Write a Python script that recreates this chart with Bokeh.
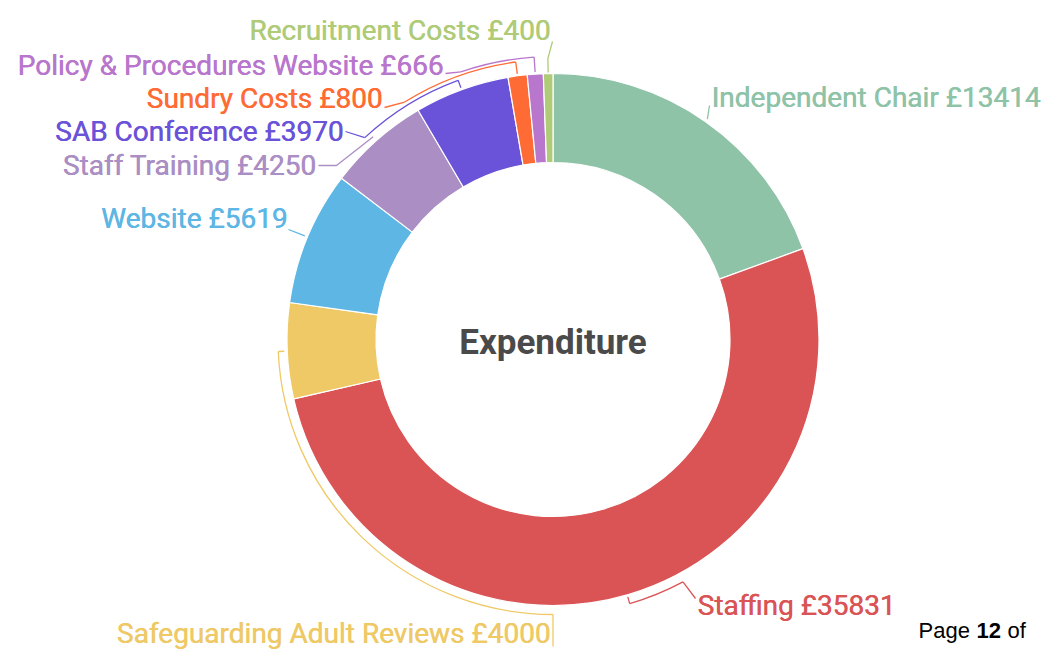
import math
from bokeh.plotting import figure
from bokeh.models import Range1d
from bokeh.core.properties import value
from bokeh.embed import file_html
from bokeh.resources import INLINE

# ---- data ----
categories = ["Independent Chair", "Staffing", "Safeguarding Adult Reviews", "Website",
              "Staff Training", "SAB Conference", "Sundry Costs",
              "Policy & Procedures Website", "Recruitment Costs"]
amounts = [13414, 35831, 4000, 5619, 4250, 3970, 800, 666, 400]
colors = ["#8EC3A7", "#DA5456", "#EEC966", "#5DB6E3", "#AA8EC4", "#6B53D9",
          "#FF6B35", "#B876CC", "#AFCB78"]
center_title = "Expenditure"
currency = "£"
footer = ["Page", "12", "of"]

# ---- layout ----
W, H = 1048, 649
CX, CY = 552.5, 339.0       # picture px
R_OUT, R_IN = 266, 177
FONT = "Roboto"
FS = "28px"

p = figure(width=W, height=H, x_range=Range1d(0, W), y_range=Range1d(-H, 0),
           output_backend="svg", toolbar_location=None, min_border=0)
p.axis.visible = False
p.grid.visible = False
p.outline_line_color = None
p.background_fill_color = "white"


def pt(theta, r):
    t = math.radians(theta)
    return CX + r * math.sin(t), -(CY - r * math.cos(t))


total = float(sum(amounts))
th_start, th_end, th_mid = [], [], []
acc = 0.0
for a in amounts:
    s = acc / total * 360.0
    acc += a
    e = acc / total * 360.0
    th_start.append(s)
    th_end.append(e)
    th_mid.append((s + e) / 2)

p.annular_wedge(x=CX, y=-CY, inner_radius=R_IN, outer_radius=R_OUT,
                start_angle=[math.radians(90 - e) for e in th_end],
                end_angle=[math.radians(90 - s) for s in th_start],
                fill_color=colors, line_color="white", line_width=1.2)

p.text(x=[CX], y=[-342], text=[center_title], text_font=value(FONT), text_font_size="35px",
       text_color="#4A4A4A", text_align="center", text_baseline="middle", text_font_style="bold")


def seg(points, c, w=1.3):
    xs = [q[0] for q in points]
    ys = [q[1] for q in points]
    p.line(xs, ys, line_color=c, line_width=w)


def bracket(r, t0, t1, c):
    p.arc(x=CX, y=-CY, radius=r, start_angle=math.radians(90 - t1),
          end_angle=math.radians(90 - t0), line_color=c, line_width=1.3)


# leader / bracket layout (picture px & angles)
# 0 Independent Chair
seg([pt(th_mid[0], 269), (709, -105)], colors[0])
# 1 Staffing
bracket(275, 151.8, 163.8, colors[1])
seg([pt(163.8, 268), pt(163.8, 275)], colors[1])
seg([pt(151.8, 275), (695, -598)], colors[1])
# 2 Safeguarding Adult Reviews
bracket(275, 180, 267.5, colors[2])
seg([pt(267.5, 269), pt(267.5, 275)], colors[2])
seg([pt(180, 275), (CX, -646)], colors[2])
# 3 Website
seg([pt(th_mid[3], 269), (288, -229)], colors[3])
# 4 Staff Training
seg([pt(th_mid[4], 271), (336, -165), (318, -165)], colors[4])
# 5 SAB Conference
seg([pt(th_mid[5], 268), pt(th_mid[5], 276)], colors[5])
bracket(276, 317, th_mid[5], colors[5])
seg([pt(317, 276), (345, -131)], colors[5])
# 6 Sundry
seg([pt(th_mid[6], 268), pt(th_mid[6], 280)], colors[6])
bracket(280, 328, th_mid[6], colors[6])
seg([pt(328, 280), (384, -107)], colors[6])
# 7 Policy
seg([pt(th_mid[7], 268), pt(th_mid[7], 283)], colors[7])
bracket(283, 341, th_mid[7], colors[7])
seg([pt(341, 283), (445, -73)], colors[7])
# 8 Recruitment
seg([pt(th_mid[8], 267), pt(th_mid[8], 281), (552, -41)], colors[8])

label_pos = [(711, 97, "left"), (697, 605, "left"), (550, 633, "right"), (287, 218, "right"),
             (316, 165, "right"), (343, 131, "right"), (382, 98, "right"), (443, 65, "right"),
             (550, 30, "right")]
for i, (lx, ly, al) in enumerate(label_pos):
    for dx in (0.0, 0.45):   # slight double-strike for a medium weight look
        p.text(x=[lx + dx], y=[-ly], text=[f"{categories[i]} {currency}{amounts[i]}"],
               text_font=value(FONT), text_font_size=FS, text_color=colors[i],
               text_align=al, text_baseline="middle")

# page footer fragment
FY = -630
p.text(x=[918], y=[FY], text=[footer[0]], text_font=value("Liberation Sans"),
       text_font_size="22px", text_color="black", text_baseline="alphabetic")
p.text(x=[976], y=[FY], text=[footer[1]], text_font=value("Liberation Sans"),
       text_font_size="22px", text_color="black", text_baseline="alphabetic",
       text_font_style="bold")
p.text(x=[1007], y=[FY], text=[footer[2]], text_font=value("Liberation Sans"),
       text_font_size="22px", text_color="black", text_baseline="alphabetic")

open("out.html", "w").write(file_html(p, INLINE))
